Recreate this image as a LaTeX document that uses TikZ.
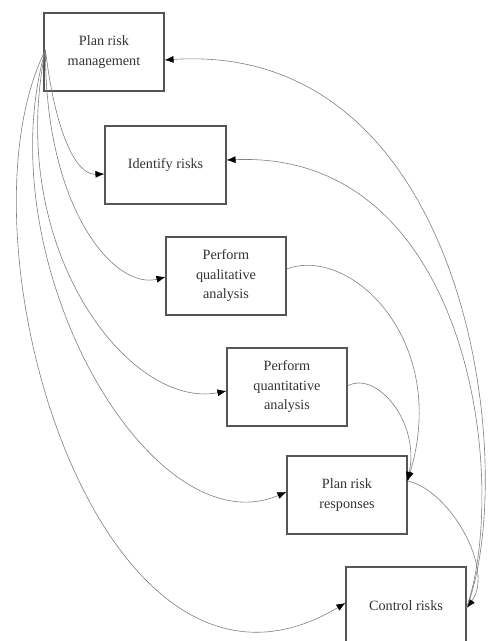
\documentclass[tikz,border=0pt]{standalone}
\usepackage{fontspec}
\setmainfont{Liberation Serif}
\usetikzlibrary{arrows.meta,calc}
\definecolor{boxline}{HTML}{555555}
\definecolor{conline}{HTML}{808080}
\definecolor{txt}{HTML}{333333}
\begin{document}
\begin{tikzpicture}[x=1pt,y=-1pt,
  box/.style={draw=boxline,line width=1.1pt,minimum width=120pt,minimum height=78pt,
    align=center,inner sep=0pt,text=txt,font=\fontsize{14.2}{19.5}\selectfont},
  con/.style={draw=conline,line width=0.6pt,-{Latex[length=9pt,width=7pt]},
    arrows={[color=black]}}]
\useasboundingbox (0,0) rectangle (490,641);
\clip (0,0) rectangle (490,641);
\fill[white] (0,0) rectangle (490,641);

\node[box] (prm) at (104,52) {Plan risk\\management};
\node[box,minimum width=121pt] (idr) at (165.5,165) {Identify risks};
\node[box] (qual) at (226,276) {Perform\\qualitative\\analysis};
\node[box] (quant) at (287,387) {Perform\\quantitative\\analysis};
\node[box] (resp) at (347,495) {Plan risk\\responses};
\node[box] (ctl) at (406,606) {Control risks};

\coordinate (src) at ($(prm.west)+(2,-2)$);
\coordinate (rr) at ($(resp.east)+(0,-14)$);
\coordinate (cr) at ($(ctl.east)+(0,2)$);

% from Plan risk management
\draw[con] (src) .. controls (55,130) and (75,175) .. ($(idr.west)+(0,9)$);
\draw[con] (src) .. controls (45,210) and (115,290) .. ($(qual.west)+(0,1)$);
\draw[con] (src) .. controls (5,250) and (130,410) .. ($(quant.west)+(0,4)$);
\draw[con] (src) .. controls (-15,260) and (150,550) .. ($(resp.west)+(0,-3)$);
\draw[con] (src) .. controls (-50,240) and (100,750) .. ($(ctl.west)+(0,-3)$);

% analyses to Plan risk responses
\draw[con] ($(qual.east)+(0,-7)$) .. controls (350,245) and (450,340) .. (rr);
\draw[con] ($(quant.east)+(0,-1)$) .. controls (375,370) and (420,420) .. (rr);

% Plan risk responses to Control risks
\draw[con] (rr) .. controls (450,490) and (495,570) .. (cr);

% feedback from Control risks
\draw[con] (cr) .. controls (520,470) and (470,40) .. ($(prm.east)+(0,8)$);
\draw[con] (cr) .. controls (510,480) and (470,150) .. ($(idr.east)+(0,-5)$);
\end{tikzpicture}
\end{document}
